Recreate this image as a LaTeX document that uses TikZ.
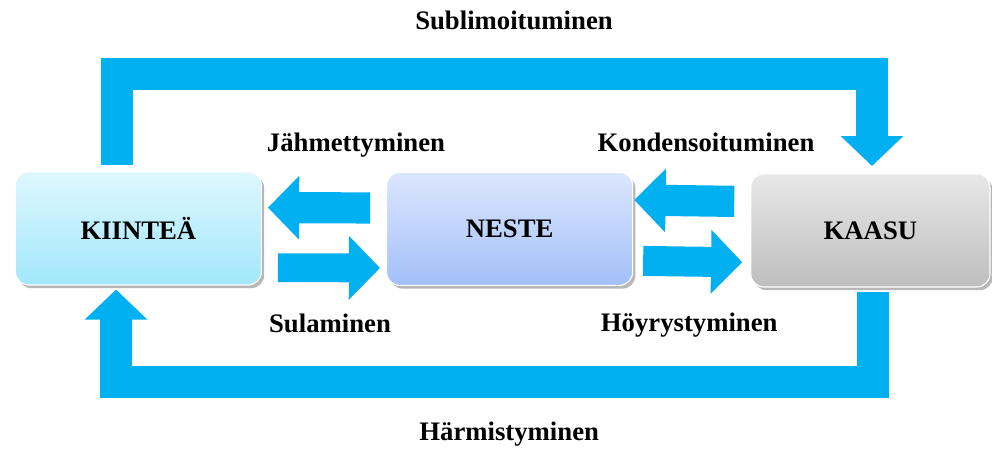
\documentclass[tikz,border=0pt]{standalone}
\usepackage{fontspec}
\setmainfont{Liberation Serif}
\usetikzlibrary{%
	arrows.meta,%
	calc,%
	shadows%
}

\definecolor{arrowblue}{HTML}{00B0F0}
\definecolor{kiinteatop}{HTML}{DEF7FE}
\definecolor{kiinteabot}{HTML}{A2E7FC}
\definecolor{nestetop}{HTML}{DCE6FD}
\definecolor{nestebot}{HTML}{A3C0FA}
\definecolor{kaasutop}{HTML}{E8E8E8}
\definecolor{kaasubot}{HTML}{BEBEBE}

\tikzset{
	statebox/.style={rounded corners=0.33cm, draw=white, line width=0.8pt,
		minimum width=6.15cm, minimum height=2.83cm,
		font=\fontsize{19}{22}\selectfont\bfseries,
		drop shadow={shadow xshift=0.07cm, shadow yshift=-0.08cm, opacity=0.4, fill=black!70}},
	bandarrow/.style={draw=arrowblue, line width=0.8cm,
		-{Triangle[width=1.52cm,length=0.75cm]}},
	blockarrow/.style={draw=arrowblue, line width=0.78cm,
		-{Triangle[width=1.55cm,length=0.78cm]}},
	phase/.style={font=\fontsize{19}{22}\selectfont\bfseries, anchor=base}
}

\begin{document}
\begin{tikzpicture}
	\fill[white] (0,0) rectangle (24.8,11.2);
	\useasboundingbox (0,0) rectangle (24.8,11.2);

	% States
	\node[statebox, top color=kiinteatop, bottom color=kiinteabot] (kiintea) at (3.46,5.49) {KIINTEÄ};
	\node[statebox, top color=nestetop, bottom color=nestebot] (neste) at (12.74,5.48) {NESTE};
	\node[statebox, minimum width=5.98cm, top color=kaasutop, bottom color=kaasubot] (kaasu) at (21.76,5.44) {KAASU};

	% Lanes of the outer arrows
	\coordinate (toplane) at (0,9.34);
	\coordinate (bottomlane) at (0,1.64);
	\coordinate (sublstart) at ($(kiintea.north west)+(2.55,0.15)$);
	\coordinate (sublend) at ($(kaasu.north)+(0.04,0.18)$);
	\coordinate (harmstart) at ($(kaasu.south)+(0.06,-0.12)$);
	\coordinate (harmend) at ($(kiintea.south west)+(2.53,-0.1)$);

	% Outer arrows
	\draw[bandarrow] (sublstart) -- (sublstart |- toplane) -- (sublend |- toplane) -- (sublend);
	\draw[bandarrow] (harmstart) -- (harmstart |- bottomlane) -- (harmend |- bottomlane) -- (harmend);

	% Inner arrows
	\draw[blockarrow, shorten <=0.4cm, shorten >=0.15cm]
		([yshift=0.52cm]neste.west) -- ([yshift=0.52cm]kiintea.east);
	\draw[blockarrow, line width=0.72cm, shorten <=0.4cm, shorten >=0.15cm]
		([yshift=-0.98cm]kiintea.east) -- ([yshift=-0.98cm]neste.west);
	\draw[blockarrow, shorten <=0.4cm, shorten >=0.03cm]
		([yshift=0.72cm]kaasu.west) -- ([yshift=0.72cm]neste.east);
	\draw[blockarrow, line width=0.75cm, shorten <=0.25cm, shorten >=0.2cm]
		([yshift=-0.8cm]neste.east) -- ([yshift=-0.8cm]kaasu.west);

	% Labels
	\foreach \name/\pos/\txt in {
		sublabel/{12.85,10.45}/Sublimoituminen,
		jahmlabel/{8.9,7.4}/Jähmettyminen,
		kondlabel/{17.65,7.42}/Kondensoituminen,
		sulalabel/{8.25,2.88}/Sulaminen,
		hoyrlabel/{17.23,2.9}/Höyrystyminen,
		harmlabel/{12.73,0.2}/Härmistyminen}
	\node[phase] (\name) at (\pos) {\txt};
\end{tikzpicture}
\end{document}
